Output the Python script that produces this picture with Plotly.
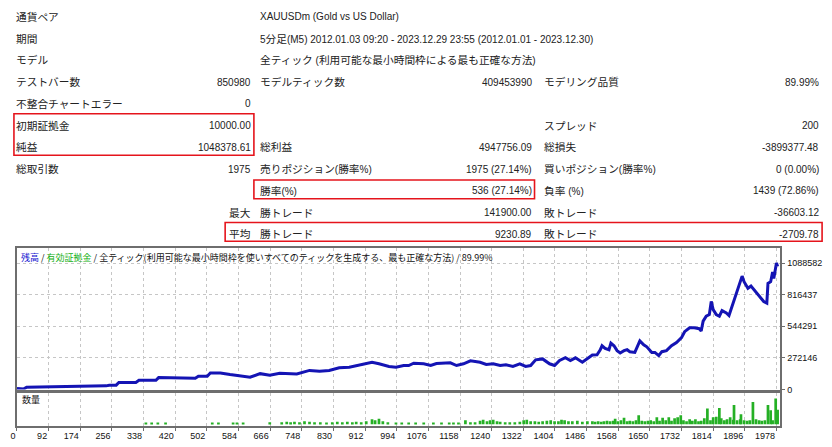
import re
import plotly.graph_objects as go

# ---------------- table data ----------------
row_labels = ["通貨ペア", "期間", "モデル", "テストバー数", "不整合チャートエラー",
              "初期証拠金", "純益", "総取引数", "", "", ""]
row_values = ["", "", "", "850980", "0", "10000.00", "1048378.61", "1975", "", "最大", "平均"]
mid_labels = ["XAUUSDm (Gold vs US Dollar)",
              "5分足(M5) 2012.01.03 09:20 - 2023.12.29 23:55 (2012.01.01 - 2023.12.30)",
              "全ティック (利用可能な最小時間枠による最も正確な方法)",
              "モデルティック数", "", "", "総利益", "売りポジション(勝率%)", "勝率(%)",
              "勝トレード", "勝トレード"]
mid_values = ["", "", "", "409453990", "", "", "4947756.09", "1975 (27.14%)",
              "536 (27.14%)", "141900.00", "9230.89"]
right_labels = ["", "", "", "モデリング品質", "", "スプレッド", "総損失",
                "買いポジション(勝率%)", "負率 (%)", "敗トレード", "敗トレード"]
right_values = ["", "", "", "89.99%", "", "200", "-3899377.48", "0 (0.00%)",
                "1439 (72.86%)", "-36603.12", "-2709.78"]

# ---------------- balance curve (trade no., balance) ----------------
balance_trades = [10, 28, 35, 182, 241, 249, 267, 274, 318, 326, 370, 377, 413, 421, 472,
                  480, 503, 511, 537, 562, 596, 614, 640, 665, 691, 735, 768, 794, 819,
                  845, 871, 897, 930, 948, 974, 992, 1012, 1025, 1038, 1064, 1082, 1097,
                  1133, 1149, 1167, 1185, 1210, 1226, 1244, 1262, 1277, 1295, 1313, 1328,
                  1341, 1354, 1372, 1390, 1403, 1416, 1431, 1444, 1457, 1475, 1488, 1501,
                  1513, 1521, 1526, 1534, 1544, 1549, 1557, 1565, 1573, 1583, 1591, 1598,
                  1611, 1624, 1634, 1642, 1655, 1663, 1673, 1681, 1693, 1706, 1719, 1732,
                  1740, 1753, 1765, 1778, 1783, 1788, 1796, 1804, 1809, 1814, 1822, 1830,
                  1837, 1848, 1855, 1863, 1873, 1881, 1889, 1894, 1904, 1912, 1920, 1933,
                  1945, 1953, 1956, 1963, 1968, 1971, 1976, 1978, 1981]
balance_values = [10000, 6000, 20000, 24000, 32000, 38000, 38000, 61000, 61000, 80000,
                  80000, 103000, 103000, 97000, 97000, 114000, 114000, 142000, 142000,
                  129000, 114000, 106000, 137000, 123000, 140000, 134000, 165000, 157000,
                  165000, 188000, 193000, 213000, 235000, 222000, 199000, 193000, 207000,
                  207000, 227000, 222000, 207000, 224000, 230000, 207000, 222000, 247000,
                  235000, 216000, 222000, 207000, 213000, 199000, 222000, 199000, 207000,
                  256000, 264000, 222000, 207000, 250000, 275000, 250000, 273000, 235000,
                  264000, 298000, 300000, 340000, 377000, 354000, 343000, 400000, 377000,
                  335000, 315000, 335000, 343000, 326000, 320000, 419000, 385000, 368000,
                  320000, 320000, 292000, 326000, 335000, 377000, 405000, 447000, 498000,
                  532000, 532000, 524000, 504000, 589000, 631000, 645000, 758000, 688000,
                  645000, 631000, 679000, 659000, 637000, 716000, 828000, 913000, 976000,
                  928000, 871000, 891000, 857000, 801000, 758000, 744000, 913000, 928000,
                  1012000, 955000, 1055000, 1088582, 1058379]

# ---------------- volume (trade no., volume) ----------------
volume_trades = [344, 359, 375, 395, 516, 532, 570, 580, 596, 665, 696, 709, 719, 729, 742,
                 755, 768, 781, 796, 812, 827, 840, 853, 866, 879, 889, 902, 915, 930, 938,
                 948, 958, 971, 992, 1007, 1025, 1043, 1064, 1089, 1110, 1130, 1141, 1154,
                 1172, 1185, 1197, 1210, 1218, 1228, 1236, 1244, 1254, 1262, 1275, 1287,
                 1300, 1313, 1323, 1331, 1341, 1352, 1362, 1372, 1383, 1393, 1403, 1413,
                 1421, 1429, 1439, 1449, 1462, 1475, 1488, 1501, 1508, 1516, 1524, 1531,
                 1539, 1547, 1555, 1560, 1567, 1575, 1583, 1591, 1598, 1606, 1614, 1621,
                 1629, 1637, 1645, 1652, 1660, 1668, 1675, 1683, 1691, 1699, 1706, 1714,
                 1722, 1730, 1737, 1745, 1753, 1760, 1768, 1776, 1783, 1791, 1799, 1807,
                 1814, 1822, 1830, 1835, 1843, 1850, 1858, 1866, 1868, 1876, 1884, 1886,
                 1894, 1902, 1909, 1917, 1925, 1933, 1940, 1948, 1956, 1963, 1968, 1976, 1981]
volume_values = [1, 1, 1, 1, 1, 1, 1.5, 1, 1.5, 2, 2, 2.5, 2, 2.5, 2, 3, 2.5, 2, 2, 1.5, 2,
                 2.5, 2, 2.5, 2, 2.5, 2, 3, 5, 4, 5.5, 3, 2, 1.5, 1.5, 1.5, 1.5, 1, 1.5, 1.5,
                 1, 1.5, 1.5, 4, 2, 2, 3.5, 4.5, 3, 4, 4.5, 3, 2.5, 2, 2, 2, 2.5, 4, 4.5, 3,
                 3, 2.5, 3, 3.5, 4, 3, 3, 4.5, 4, 3, 3, 3.5, 2.5, 3, 3, 2.5, 3, 2.5, 3, 3.5,
                 3, 3.5, 5.5, 3, 4, 6.5, 3, 3.5, 3, 4, 9, 3.5, 3, 3.5, 4, 3, 7, 3.5, 6.5, 4,
                 7, 3.5, 6, 7, 9, 4, 3, 5, 3.5, 5, 3, 3.5, 6, 16, 4, 7, 7.5, 16.5, 6, 4, 5, 7,
                 4.5, 19.5, 4, 5, 10, 4, 3.5, 4, 22.5, 5, 4, 3.5, 4, 19.5, 14, 4, 26, 14.5]

# ---------------- axes ----------------
x_tick_vals = [9.8] + [92 + 82 * i for i in range(24)]
x_tick_text = ["0"] + [str(92 + 82 * i) for i in range(24)]
y_tick_vals = [0, 272146, 544291, 816437, 1088582]
y_tick_text = ["0", "272146", "544291", "816437", "1088582"]

W, H = 832, 447


def px(x):
    return x / W


def py(y):
    return 1 - y / H


def jp(s):
    return re.sub(r'([^\x00-\x7f]+)', r'<span style="font-size:10.7px">\1</span>', s)


fig = go.Figure()
fig.add_trace(go.Scatter(x=balance_trades, y=balance_values, mode="lines",
                         line=dict(color="#1414b4", width=3),
                         xaxis="x", yaxis="y", hoverinfo="skip"))
fig.add_trace(go.Bar(x=volume_trades, y=volume_values, width=7,
                     marker=dict(color="#25b025", line_width=0),
                     xaxis="x2", yaxis="y2", hoverinfo="skip"))

grid = dict(showgrid=True, gridcolor="#c6c6c6", griddash="3px,3px", gridwidth=1)
frame = dict(showline=True, linecolor="#6e6e6e", linewidth=2, mirror=True, zeroline=False)
tickfont = dict(family="Liberation Sans", size=9, color="#111")

fig.update_layout(
    width=W, height=H, margin=dict(l=0, r=0, t=0, b=0),
    paper_bgcolor="white", plot_bgcolor="white", showlegend=False,
    font=dict(family="Liberation Sans, Noto Sans CJK JP", color="#111"),
    xaxis=dict(domain=[px(10), px(780)], anchor="y", range=[9.8, 1988.3],
               tickvals=x_tick_vals, showticklabels=False, ticks="", **grid, **frame),
    yaxis=dict(domain=[py(394), py(251)], anchor="x", side="right", range=[0, 1216150],
               tickvals=y_tick_vals, ticktext=y_tick_text, ticks="outside", ticklen=3,
               tickcolor="#6e6e6e", tickfont=tickfont, **grid, **frame),
    xaxis2=dict(domain=[px(10), px(780)], anchor="y2", matches="x", range=[9.8, 1988.3],
                tickvals=x_tick_vals, ticktext=x_tick_text, ticks="outside", ticklen=3,
                tickcolor="#6e6e6e", ticklabelposition="outside left", tickfont=tickfont,
                **grid, **frame),
    yaxis2=dict(domain=[py(431), py(397)], anchor="x2", range=[-2, 32],
                showticklabels=False, ticks="", showgrid=False, **frame),
)

ann = []
for i in range(len(row_labels)):
    y = py(17 + 22 * i)
    items = [(row_labels[i], 8, "left"), (row_values[i], 247, "right"),
             (mid_labels[i], 254, "left"), (mid_values[i], 530, "right"),
             (right_labels[i], 541, "left"), (right_values[i], 820, "right")]
    for text, x, anchor in items:
        if text:
            ann.append(dict(text=jp(text), x=px(x), y=y, xref="paper", yref="paper",
                            xanchor=anchor, yanchor="middle", showarrow=False,
                            font=dict(size=10, color="#222"), borderpad=0))

ann.append(dict(text='<span style="color:#1010d0">残高</span> / <span style="color:#12b012">有効証拠金</span>'
                     ' / 全ティック(利用可能な最小時間枠を使いすべてのティックを生成する、最も正確な方法) / 89.99%',
                x=px(13), y=py(260), xref="paper", yref="paper", xanchor="left", yanchor="middle",
                showarrow=False, borderpad=0,
                font=dict(family="Noto Sans CJK JP", size=9, color="#111")))
ann.append(dict(text="数量", x=px(14), y=py(404), xref="paper", yref="paper",
                xanchor="left", yanchor="middle", showarrow=False, borderpad=0,
                font=dict(family="Noto Sans CJK JP", size=9, color="#111")))
fig.update_layout(annotations=ann)

boxes = [(7, 115, 249, 157), (249, 182, 532, 201), (220, 225, 822, 244)]
fig.update_layout(shapes=[dict(type="rect", xref="paper", yref="paper",
                               x0=px(a), x1=px(c), y0=py(b), y1=py(d),
                               line=dict(color="#e5141c", width=1.6))
                          for a, b, c, d in boxes])

fig.write_html("out.html", config={"displayModeBar": False})
